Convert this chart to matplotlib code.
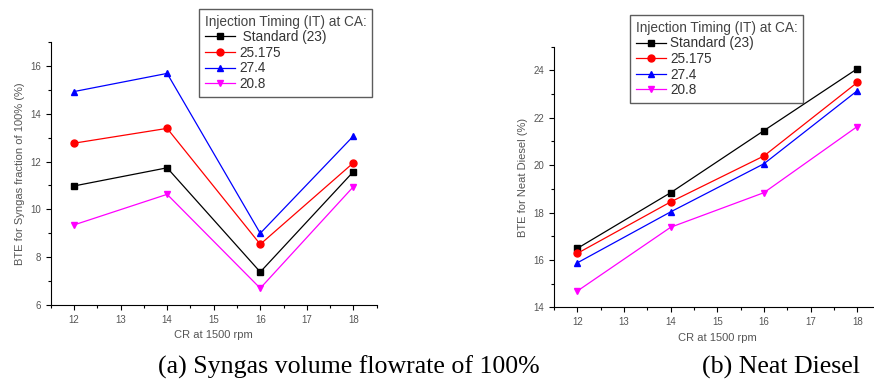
import matplotlib.pyplot as plt
from matplotlib.ticker import MultipleLocator

cr = [12, 14, 16, 18]
labels_a = [' Standard (23)', '25.175', '27.4', '20.8']
labels_b = ['Standard (23)', '25.175', '27.4', '20.8']

# BTE for syngas fraction of 100%
syngas_std = [10.98, 11.74, 7.38, 11.58]
syngas_25 = [12.77, 13.39, 8.54, 11.95]
syngas_27 = [14.93, 15.69, 9.00, 13.07]
syngas_20 = [9.35, 10.63, 6.70, 10.95]

# BTE for neat diesel
diesel_std = [16.49, 18.84, 21.46, 24.07]
diesel_25 = [16.28, 18.45, 20.39, 23.49]
diesel_27 = [15.88, 18.03, 20.06, 23.14]
diesel_20 = [14.69, 17.38, 18.84, 21.63]

colors = ['black', 'red', 'blue', 'magenta']
markers = ['s', 'o', '^', 'v']
tick_col = '#555555'

plt.rcParams['font.family'] = ['Liberation Sans', 'DejaVu Sans']

fig = plt.figure(figsize=(8.74, 3.81), dpi=100)
ax1 = fig.add_axes([0.058, 0.1995, 0.373, 0.690])
ax2 = fig.add_axes([0.634, 0.1934, 0.3735, 0.684])


def draw(ax, series, labels, ylim, ylabel, box):
    for vals, c, m, lab in zip(series, colors, markers, labels):
        ax.plot(cr, vals, color=c, marker=m, markersize=5, linewidth=0.9,
                label=lab)
    ax.set_xlim(11.5, 18.5)
    ax.set_ylim(*ylim)
    ax.xaxis.set_major_locator(MultipleLocator(1))
    ax.xaxis.set_minor_locator(MultipleLocator(0.5))
    ax.yaxis.set_major_locator(MultipleLocator(2))
    ax.yaxis.set_minor_locator(MultipleLocator(1))
    for s in ['top', 'right']:
        ax.spines[s].set_visible(False)
    ax.tick_params(which='major', length=3.5, width=0.8, labelsize=7,
                   labelcolor=tick_col, direction='out')
    ax.tick_params(which='minor', length=2, width=0.8, direction='out')
    ax.set_xlabel('CR at 1500 rpm', fontsize=8, color=tick_col)
    ax.set_ylabel(ylabel, fontsize=8, color=tick_col)
    leg = fig.legend(*ax.get_legend_handles_labels(),
                     title='Injection Timing (IT) at CA:',
                     loc='upper left', bbox_to_anchor=box, fontsize=9.8,
                     title_fontsize=9.8, frameon=True, fancybox=False,
                     edgecolor='#333333', handlelength=2.2,
                     handletextpad=0.35, labelspacing=0.12,
                     borderpad=0.4, borderaxespad=0, alignment='left')
    leg.get_frame().set_linewidth(1.0)
    for t in leg.get_texts():
        t.set_color('#333333')
    leg.get_title().set_color('#444444')


draw(ax1, [syngas_std, syngas_25, syngas_27, syngas_20], labels_a, (6, 17),
     'BTE for Syngas fraction of 100% (%)', (0.228, 0.976))
draw(ax2, [diesel_std, diesel_25, diesel_27, diesel_20], labels_b, (14, 25),
     'BTE for Neat Diesel (%)', (0.721, 0.96))

fig.text(0.181, 0.02, '(a) Syngas volume flowrate of 100%',
         family='Liberation Serif', fontsize=18.6)
fig.text(0.803, 0.02, '(b) Neat Diesel', family='Liberation Serif',
         fontsize=18.6)

fig.savefig('out.png', dpi=100)
